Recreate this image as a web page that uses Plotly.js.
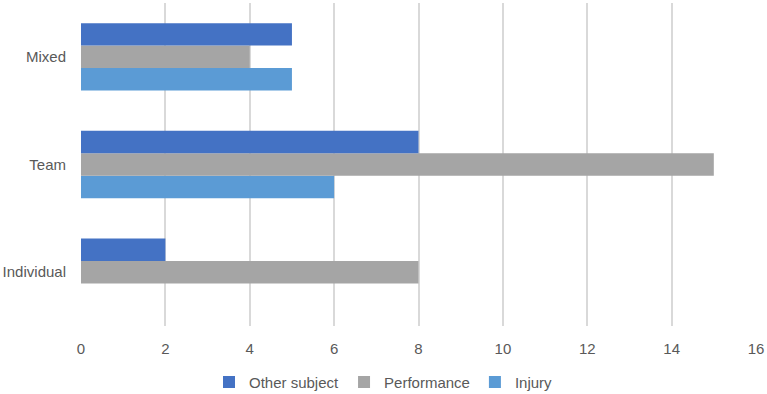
<!DOCTYPE html>
<html>
<head>
<meta charset="utf-8">
<script src="https://cdn.plot.ly/plotly-3.0.1.min.js"></script>
<style>
  html, body { margin: 0; padding: 0; background: #fff; }
  #chart { width: 767px; height: 394px; }
</style>
</head>
<body>
<div id="chart"></div>
<script>
// Sport categories, bottom to top on the y axis
const categories = ['Individual', 'Team', 'Mixed'];

// Number of studies per subject
const otherSubject = [2, 8, 5];
const performance = [8, 15, 4];
const injury = [0, 6, 5];

const xTicks = [0, 2, 4, 6, 8, 10, 12, 14, 16];

const fontFamily = '"Liberation Sans", Arial, sans-serif';
const textColor = '#595959';

// Traces listed bottom-up so "Other subject" sits on top within each group
const traces = [
  { name: 'Injury', x: injury, color: '#5B9BD5' },
  { name: 'Performance', x: performance, color: '#A5A5A5' },
  { name: 'Other subject', x: otherSubject, color: '#4472C4' }
].map(s => ({
  type: 'bar',
  orientation: 'h',
  name: s.name,
  y: categories,
  x: s.x,
  marker: { color: s.color, line: { width: 0 } },
  hoverinfo: 'x+name'
}));

const layout = {
  width: 767,
  height: 394,
  margin: { l: 81, r: 11, t: 3, b: 68, autoexpand: false },
  paper_bgcolor: '#ffffff',
  plot_bgcolor: '#ffffff',
  barmode: 'group',
  bargap: 0.375,
  bargroupgap: 0,
  font: { family: fontFamily, size: 15, color: textColor },
  xaxis: {
    range: [0, 16],
    tickvals: xTicks,
    ticktext: xTicks.map(String),
    showgrid: true,
    gridcolor: '#D9D9D9',
    gridwidth: 2,
    zeroline: false,
    showline: false,
    ticks: '',
    ticklabelstandoff: 12,
    automargin: false,
    fixedrange: true
  },
  yaxis: {
    type: 'category',
    categoryorder: 'array',
    categoryarray: categories,
    showgrid: false,
    zeroline: false,
    showline: false,
    ticks: '',
    ticklabelstandoff: 14,
    automargin: false,
    fixedrange: true
  },
  legend: {
    orientation: 'h',
    traceorder: 'reversed',
    x: 0.5,
    xanchor: 'center',
    xref: 'container',
    y: 0.03,
    yanchor: 'middle',
    yref: 'container',
    font: { family: fontFamily, size: 15, color: textColor },
    itemwidth: 30,
    tracegroupgap: 0
  },
  showlegend: true
};

Plotly.newPlot('chart', traces, layout, { displayModeBar: false, staticPlot: true });
</script>
</body>
</html>
